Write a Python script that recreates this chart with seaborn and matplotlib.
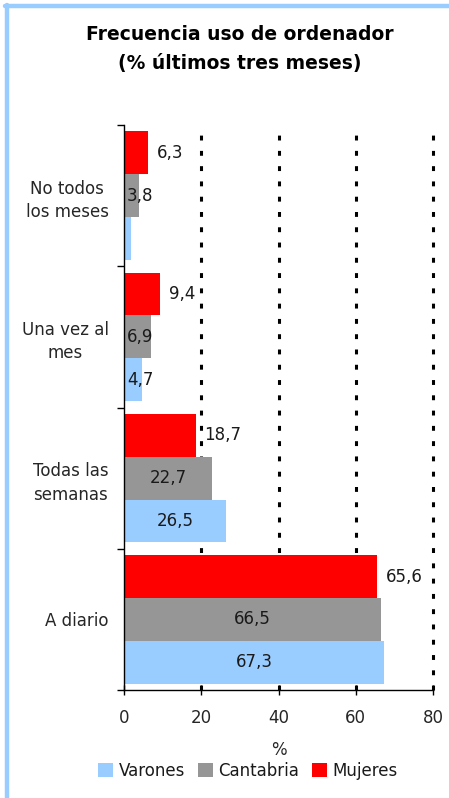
import pandas as pd
import matplotlib
matplotlib.use("Agg")
import matplotlib.pyplot as plt
import seaborn as sns
from matplotlib.patches import Patch
from matplotlib.lines import Line2D

# ==========================================
# DATA
# ==========================================
categorias = ["No todos\nlos meses", "Una vez al\nmes", "Todas las\nsemanas", "A diario"]
grupos = ["Mujeres", "Cantabria", "Varones"]
mujeres = [6.3, 9.4, 18.7, 65.6]
cantabria = [3.8, 6.9, 22.7, 66.5]
varones = [1.7, 4.7, 26.5, 67.3]
etiquetas_varones = ["", "4,7", "26,5", "67,3"]   # first value has no label in the source
xticks = [0, 20, 40, 60, 80]

colores = {"Varones": "#99CCFF", "Cantabria": "#969696", "Mujeres": "#FF0000"}
orden_leyenda = ["Varones", "Cantabria", "Mujeres"]

df = pd.DataFrame({
    "categoria": categorias * 3,
    "grupo": ["Mujeres"] * 4 + ["Cantabria"] * 4 + ["Varones"] * 4,
    "valor": mujeres + cantabria + varones,
})

# ==========================================
# PLOT
# ==========================================
sns.set_theme(style="white")
plt.rcParams["font.family"] = ["DejaVu Sans"]
plt.rcParams["text.color"] = "#1a1a1a"

fig = plt.figure(figsize=(4.49, 7.98), dpi=100)
ax = fig.add_axes([124 / 449, 1 - 690 / 798, 309 / 449, 565 / 798])

sns.barplot(data=df, y="categoria", x="valor", hue="grupo", hue_order=grupos,
            palette=colores, orient="h", width=0.91, saturation=1,
            order=categorias, legend=False, ax=ax, linewidth=0)

ax.set_xlim(0, 80)
ax.set_ylim(3.5, -0.5)
ax.set_xticks(xticks)
ax.set_xticklabels([str(t) for t in xticks], fontsize=12)
for t in xticks[1:]:
    ax.axvline(t, color="black", lw=2.2, linestyle=(0, (1.6, 3.4)), zorder=0, clip_on=False)

# category separators as minor ticks
ax.set_yticks([i - 0.5 for i in range(len(categorias) + 1)], minor=True)
ax.tick_params(axis="y", which="minor", left=True, length=5, width=1,
               direction="out", color="black")
ax.tick_params(axis="y", which="major", left=False, length=0, pad=11, labelsize=12)
for lab in ax.get_yticklabels():
    lab.set_multialignment("center")
    lab.set_linespacing(1.4)
ax.tick_params(axis="x", which="major", bottom=True, length=7, width=1,
               direction="inout", color="black", pad=10)

for s in ["top", "right"]:
    ax.spines[s].set_visible(False)
for s in ["left", "bottom"]:
    ax.spines[s].set_color("black")
    ax.spines[s].set_linewidth(1)

ax.set_ylabel("")
ax.set_xlabel("%", fontsize=12, labelpad=10)

# data labels
for cont, grupo in zip(ax.containers, grupos):
    for i, bar in enumerate(cont):
        w = bar.get_width()
        yc = bar.get_y() + bar.get_height() / 2
        if grupo == "Mujeres":
            ax.annotate(f"{w:.1f}".replace(".", ","), (w, yc), xytext=(6, 0),
                        textcoords="offset points", ha="left", va="center", fontsize=12)
        else:
            txt = etiquetas_varones[i] if grupo == "Varones" else f"{w:.1f}".replace(".", ",")
            if txt:
                ax.text(max(w / 2, 4.2), yc, txt, ha="center", va="center", fontsize=12)

# title
fig.text(240 / 449, 1 - 49 / 798, "Frecuencia uso de ordenador\n(% últimos tres meses)",
         ha="center", va="center", fontsize=13.5, fontweight="bold", linespacing=1.65,
         color="black")

# legend
handles = [Patch(facecolor=colores[g], edgecolor="none") for g in orden_leyenda]
fig.legend(handles, orden_leyenda, loc="center", bbox_to_anchor=(248 / 449, 1 - 771 / 798),
           ncol=3, frameon=False, fontsize=12, handlelength=0.9, handleheight=0.9,
           handletextpad=0.3, columnspacing=0.8, borderpad=0)

# light blue frame (top and left)
fig.add_artist(Line2D([7 / 449, 7 / 449], [0, 1 - 5 / 798], color="#99CCFF", lw=3.2))
fig.add_artist(Line2D([5 / 449, 1], [1 - 6 / 798, 1 - 6 / 798], color="#99CCFF", lw=3.2))

fig.savefig("out.png", dpi=100, facecolor="white")
